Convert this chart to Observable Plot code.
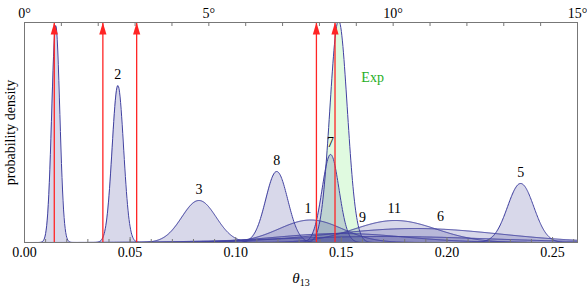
<!DOCTYPE html>
<html><head><meta charset="utf-8">
<script src="https://cdn.jsdelivr.net/npm/d3@7"></script>
<script src="https://cdn.jsdelivr.net/npm/@observablehq/plot@0.6"></script>
<style>body{margin:0;background:#fff} svg{display:block}</style>
</head><body><div id="chart"></div>
<script>
// Density curves: centre, width and peak height of each model
const curveNames   = ["10", "2", "3", "8", "1", "6", "9", "4", "11", "7", "5"];
const curveCenters = [0.0148, 0.0442, 0.0826, 0.1194, 0.1355, 0.185, 0.150, 0.170, 0.1755, 0.1449, 0.2349];
const curveWidths  = [0.0019, 0.0027, 0.0081, 0.0052, 0.0150, 0.040, 0.030, 0.050, 0.0195, 0.0040, 0.0062];
const curvePeaks   = [217, 157, 42, 71, 22.5, 14, 9, 6, 22, 88, 59];
// Experimental distribution
const expCenter = 0.1487, expWidth = 0.0041, expPeak = 222;
// Red arrows
const arrowPositions = [0.0141, 0.0371, 0.0531, 0.1382, 0.1470];
// Curve labels
const labelNames = ["2", "3", "8", "7", "1", "9", "11", "6", "5"];
const labelX     = [0.0442, 0.0826, 0.1194, 0.1449, 0.1342, 0.1600, 0.1750, 0.1970, 0.2349];
const labelY     = [168, 53, 82, 100, 33.5, 25, 34, 25.7, 69.5];
// Axis ticks
const bottomLabelTicks = [0, 0.05, 0.10, 0.15, 0.20, 0.25];
const bottomMinorTicks = d3.range(0, 27).map(i => i / 100);
const topLabelDegrees = [0, 5, 10, 15];
const topMinorDegrees = d3.range(0, 16);

const xMax = 15 * Math.PI / 180;
const grid = d3.range(0, xMax + 1e-9, 0.00025);
const gauss = (x, m, s, h) => h * Math.exp(-0.5 * ((x - m) / s) ** 2);

const curves = curveNames.flatMap((name, i) =>
  grid.map(x => ({name, x, y: gauss(x, curveCenters[i], curveWidths[i], curvePeaks[i])})));
const expData = grid.map(x => ({name: "Exp", x, y: gauss(x, expCenter, expWidth, expPeak)}));
const labels = labelNames.map((t, i) => ({t, x: labelX[i], y: labelY[i]}));

const red = "#ff2424";
const arrowHead = {draw(context) {
  context.moveTo(0, 0); context.lineTo(3.6, 12); context.lineTo(-3.6, 12); context.closePath();
}};
const plotH = 220;
const fs = 14;

const chart = Plot.plot({
  width: 587, height: 289,
  marginLeft: 24, marginRight: 10, marginTop: 22, marginBottom: 47,
  style: {fontFamily: "'Liberation Serif', 'Times New Roman', serif", fontSize: "14px", color: "#000", background: "#fff"},
  x: {domain: [0, xMax]},
  y: {domain: [0, plotH], axis: null},
  marks: [
    Plot.areaY(expData, {x: "x", y1: 0, y2: "y", fill: "#00d400", fillOpacity: 0.12, clip: true}),
    Plot.areaY(curves, {x: "x", y1: 0, y2: "y", z: "name", fill: "#3c3c96", fillOpacity: 0.2, clip: true}),
    Plot.lineY(curves.concat(expData), {x: "x", y: "y", z: "name", stroke: "#4040a0", strokeWidth: 1, clip: true}),
    Plot.tickX(bottomMinorTicks, {x: d => d, insetTop: plotH - 3, stroke: "#777"}),
    Plot.tickX(bottomLabelTicks, {x: d => d, insetTop: plotH - 5, stroke: "#777"}),
    Plot.tickX(topMinorDegrees, {x: d => d * Math.PI / 180, insetBottom: plotH - 4, stroke: "#777"}),
    Plot.ruleX(arrowPositions, {x: d => d, stroke: red, strokeWidth: 1.3}),
    Plot.dot(arrowPositions, {x: d => d, frameAnchor: "top", symbol: arrowHead, fill: red, stroke: null}),
    Plot.frame({stroke: "#777"}),
    Plot.axisX(bottomLabelTicks, {anchor: "bottom", tickSize: 0, tickPadding: 5, tickFormat: d => d.toFixed(2), label: null, fontSize: fs}),
    Plot.axisX(topLabelDegrees.map(d => d * Math.PI / 180), {anchor: "top", tickSize: 0, tickPadding: 5, tickFormat: d => Math.round(d * 180 / Math.PI) + "°", label: null, fontSize: fs}),
    Plot.text(labels, {x: "x", y: "y", text: "t", fontSize: fs, fill: "#000"}),
    Plot.text(["Exp"], {x: 0.1648, y: 165, text: d => d, fill: "#1fae1f", fontSize: fs}),
    Plot.text(["probability density"], {frameAnchor: "left", textAnchor: "middle", text: d => d, rotate: -90, dx: -14, fontSize: fs}),
    Plot.text(["θ13"], {frameAnchor: "bottom", text: d => d, dy: 40, fontSize: 15})
  ]
});
document.getElementById("chart").appendChild(chart);

// subscript for the x label
d3.select(chart).selectAll("text").each(function() {
  if (this.textContent === "θ13") {
    const t = d3.select(this);
    t.text(null);
    t.append("tspan").attr("font-style", "italic").text("θ");
    t.append("tspan").attr("font-size", "10").attr("dy", "3").text("13");
  }
});
</script>
</body></html>
